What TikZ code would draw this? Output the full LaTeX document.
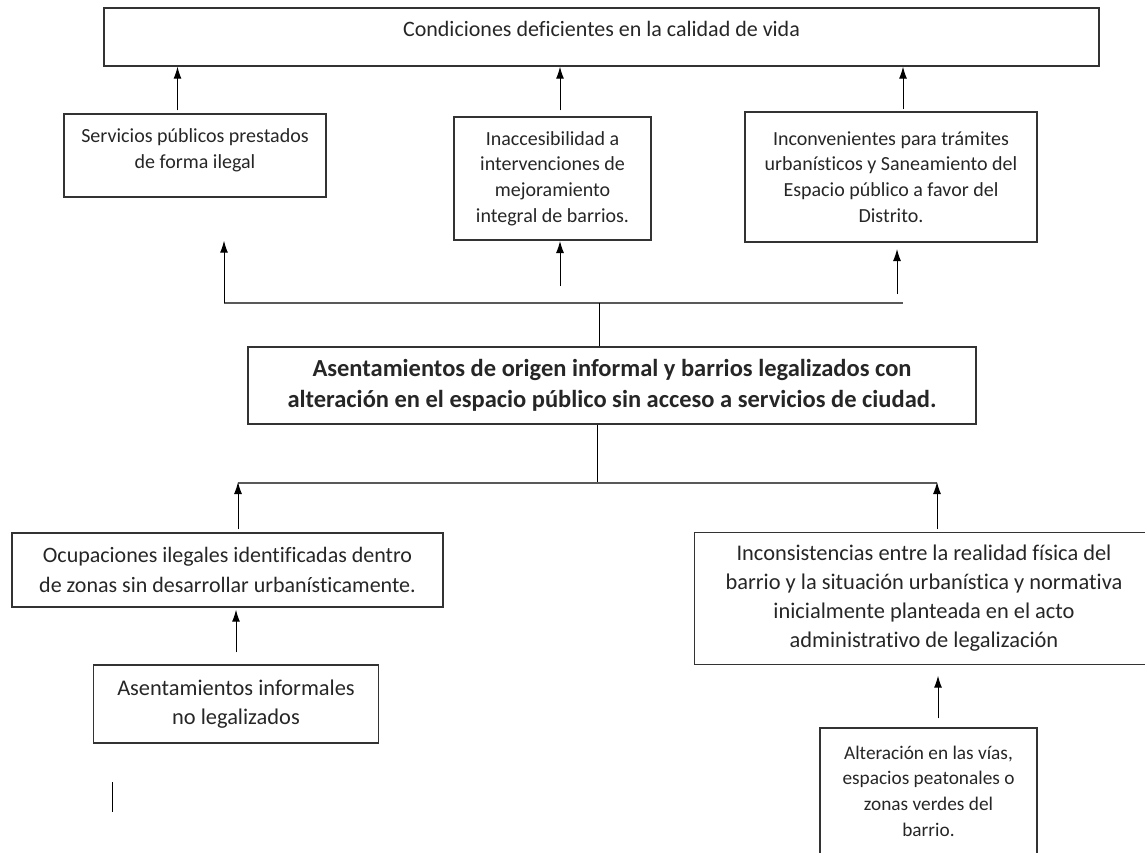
\documentclass[tikz,border=0pt]{standalone}
\usepackage{fontspec}
\setmainfont{Carlito}[Ligatures=NoCommon]
\usetikzlibrary{arrows.meta,positioning}

\tikzset{
  box/.style={draw=black!80, line width=1.4pt, align=center, inner sep=0pt,
    text=black!85, font=\fontsize{20}{25.7}\selectfont},
  arr/.style={-{Latex[length=12pt,width=8pt]}, line width=1pt},
  bar/.style={line width=2.6pt, draw=black!65},
}

\begin{document}
\begin{tikzpicture}[x=1pt,y=-1pt]
\useasboundingbox (0,0) rectangle (1145,852);
\clip (0,0) rectangle (1145,852);

% efectos
\node[box, minimum width=995pt, text height=28pt, text depth=30pt,
  font=\fontsize{22}{26}\selectfont] (vida) at (601.5,37)
  {Condiciones deficientes en la calidad de vida};
\node[box, minimum width=262pt, minimum height=83pt, text depth=14pt] (serv) at (195,155.5)
  {Servicios públicos prestados\\de forma ilegal};
\node[box, minimum width=197pt, minimum height=123pt] (inacc) at (552.5,178.5)
  {Inaccesibilidad a\\intervenciones de\\mejoramiento\\integral de barrios.};
\node[box, minimum width=292pt, minimum height=130pt] (incon) at (891,177)
  {Inconvenientes para trámites\\urbanísticos y Saneamiento del\\Espacio público a favor del\\Distrito.};

% problema central
\node[box, minimum width=728pt, minimum height=77pt,
  font=\fontsize{24.5}{31}\selectfont\bfseries] (central) at (612,385.5)
  {Asentamientos de origen informal y barrios legalizados con\\alteración en el espacio público sin acceso a servicios de ciudad.};

% causas
\node[box, minimum width=431pt, minimum height=74pt, font=\fontsize{22}{30}\selectfont] (ocup) at (227.5,570)
  {Ocupaciones ilegales identificadas dentro\\de zonas sin desarrollar urbanísticamente.};
% caja cortada por el borde derecho
\node[box, draw=none, minimum width=458pt, minimum height=131pt, font=\fontsize{22.4}{29}\selectfont] (realidad) at (924,598.5)
  {Inconsistencias entre la realidad física del\\barrio y la situación urbanística y normativa\\inicialmente planteada en el acto\\administrativo de legalización};
\draw[line width=1.4pt, black!80] ([xshift=40pt]realidad.north east) -- (realidad.north west)
  -- (realidad.south west) -- ([xshift=40pt]realidad.south east);
\node[box, minimum width=285pt, minimum height=78pt, font=\fontsize{22.4}{29}\selectfont] (asent) at (236,704)
  {Asentamientos informales\\no legalizados};
\node[box, minimum width=217pt, minimum height=126pt, font=\fontsize{19.3}{25.7}\selectfont] (vias) at (928.5,791)
  {Alteración en las vías,\\espacios peatonales o\\zonas verdes del\\barrio.};

% arriba
\draw[arr, shorten <=3pt] ([xshift=-17.5pt]serv.north) -- ([xshift=-17.5pt]serv.north |- vida.south);
\draw[arr, shorten <=6pt] ([xshift=7.5pt]inacc.north) -- ([xshift=7.5pt]inacc.north |- vida.south);
\draw[arr, shorten <=2pt] ([xshift=12pt]incon.north) -- ([xshift=12pt]incon.north |- vida.south);

\coordinate (barL) at (224,303);
\coordinate (barR) at (903,303);
\draw[bar] (barL) -- (barR);
\draw (central.north -| 599,0) -- (599,303);
\draw[arr, shorten >=43pt] (barL) -- (barL |- serv.south);
\draw[arr, shorten <=17pt] (560,303) -- (560,241);
\draw[arr, shorten <=9pt] (897,303) -- (897,249);

% abajo
\coordinate (bajoL) at (238,483);
\coordinate (bajoR) at (937,483);
\draw (central.south -| 597.5,0) -- (597.5,483);
\draw[bar] (bajoL) -- (bajoR);
\draw[arr, shorten <=3pt, shorten >=-1pt] (bajoL |- ocup.north) -- (bajoL);
\draw[arr, shorten <=3pt, shorten >=-1pt] (bajoR |- realidad.north) -- (bajoR);
\draw[arr, shorten <=12pt, shorten >=2pt] (asent.north) -- (asent.north |- ocup.south);
\draw[arr, shorten <=9pt, shorten >=11pt] ([xshift=9.5pt]vias.north) -- ([xshift=9.5pt]vias.north |- realidad.south);

\draw[line width=1pt] (112,782) -- (112,812);
\end{tikzpicture}
\end{document}
